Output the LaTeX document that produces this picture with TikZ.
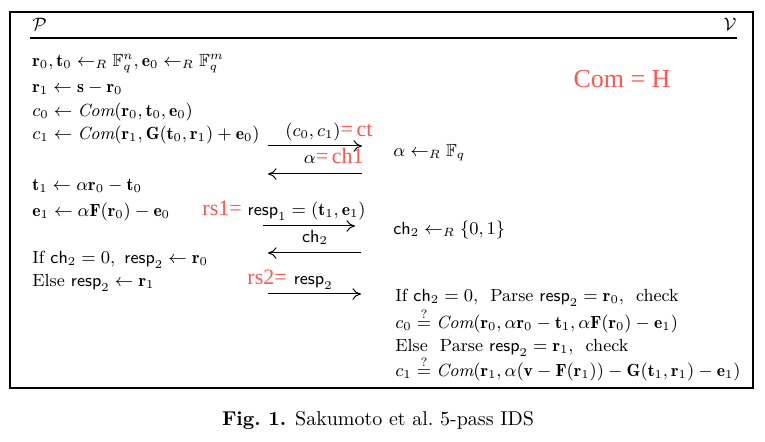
\documentclass[tikz,border=0pt]{standalone}
\usepackage{amsmath,amssymb}
\usepackage{fontspec}
\usetikzlibrary{arrows.meta,positioning}
\newfontfamily\notefont{Liberation Serif}
\definecolor{notered}{RGB}{250,88,82}
\newcommand{\rsamp}{\leftarrow_R}
\newcommand{\Com}{\mathit{Com}}
\newcommand{\chal}{\mathsf{ch}}
\newcommand{\resp}{\mathsf{resp}}
\newcommand{\redtxt}[1]{{\notefont\fontsize{11pt}{13pt}\selectfont\color{notered}#1}}

\begin{document}
\begin{tikzpicture}[x=0.5pt, y=-0.5pt,
  font={\fontsize{8.8}{11}\selectfont},
  line/.style={anchor=base west, inner sep=0pt},
  lbl/.style={anchor=base east, inner sep=0pt},
  msg/.style={-{To[length=1.5mm, width=2mm]}, line width=0.5pt}]
\useasboundingbox (0,0) rectangle (765,442);
\draw[line width=0.7pt] (10,12) rectangle (753,388);
\node[line] (P) at (32,31) {$\mathcal{P}$};
\node[lbl] (V) at (737,31) {$\mathcal{V}$};
\draw[line width=0.6pt] (30,38) -- (737,38);
\node[line] (p1) at (32,67) {$\mathbf{r}_0,\mathbf{t}_0 \rsamp \mathbb{F}_q^n, \mathbf{e}_0 \rsamp \mathbb{F}_q^m$};
\node[line] (p2) at (32,93) {$\mathbf{r}_1 \leftarrow \mathbf{s}-\mathbf{r}_0$};
\node[line] (p3) at (32,117) {$c_0 \leftarrow \Com(\mathbf{r}_0,\mathbf{t}_0,\mathbf{e}_0)$};
\node[line] (p4) at (32,140) {$c_1 \leftarrow \Com(\mathbf{r}_1,\mathbf{G}(\mathbf{t}_0,\mathbf{r}_1)+\mathbf{e}_0)$};
\node[line] (p5) at (32,191) {$\mathbf{t}_1 \leftarrow \alpha\mathbf{r}_0-\mathbf{t}_0$};
\node[line] (p6) at (32,217) {$\mathbf{e}_1 \leftarrow \alpha\mathbf{F}(\mathbf{r}_0)-\mathbf{e}_0$};
\node[line] (p7) at (32,264) {If $\chal_2=0,~\resp_2 \leftarrow \mathbf{r}_0$};
\node[line] (p8) at (32,287) {Else $\resp_2 \leftarrow \mathbf{r}_1$};
\node (H) at (622,79) {{\notefont\fontsize{13pt}{15pt}\selectfont\color{notered}Com = H}};
\coordinate (m1a) at (268,146); \coordinate (m1b) at (362,146);
\coordinate (m2a) at (362,174); \coordinate (m2b) at (268,174);
\coordinate (m3a) at (263,226); \coordinate (m3b) at (355,226);
\coordinate (m4a) at (361,253); \coordinate (m4b) at (268,253);
\coordinate (m5a) at (268,294); \coordinate (m5b) at (361,294);
\draw[msg] (m1a) -- (m1b); \draw[msg] (m2a) -- (m2b);
\draw[msg] (m3a) -- (m3b); \draw[msg] (m4a) -- (m4b);
\draw[msg] (m5a) -- (m5b);
\node[lbl] (ct) at (373,137) {$(c_0,c_1)$\redtxt{=\,ct}};
\node[lbl] (ch1) at (364,164) {$\alpha$\redtxt{=\,ch1}};
\node[lbl] (rs1) at (366,216) {\redtxt{rs1=}\hspace{3pt}$\resp_1=(\mathbf{t}_1,\mathbf{e}_1)$};
\node[anchor=base, inner sep=0pt] (c2) at (315,243) {$\chal_2$};
\node[lbl] (rs2) at (333,285) {\redtxt{rs2=}\hspace{3.5pt}$\resp_2$};
\node[line] (v1) at (393,157) {$\alpha \rsamp \mathbb{F}_q$};
\node[line] (v2) at (393,235) {$\chal_2 \rsamp \{0,1\}$};
\node[line] (v3) at (395,302) {If $\chal_2=0,$~ Parse $\resp_2=\mathbf{r}_0,$~ check};
\node[line] (v4) at (395,329) {$c_0 \stackrel{?}{=} \Com(\mathbf{r}_0,\alpha\mathbf{r}_0-\mathbf{t}_1,\alpha\mathbf{F}(\mathbf{r}_0)-\mathbf{e}_1)$};
\node[line] (v5) at (395,352) {Else~ Parse $\resp_2=\mathbf{r}_1,$~ check};
\node[line] (v6) at (395,377) {$c_1 \stackrel{?}{=} \Com(\mathbf{r}_1,\alpha(\mathbf{v}-\mathbf{F}(\mathbf{r}_1))-\mathbf{G}(\mathbf{t}_1,\mathbf{r}_1)-\mathbf{e}_1)$};
\node[anchor=base, inner sep=0pt, font=\normalsize] (cap) at (378,426) {\textbf{Fig.\ 1.} Sakumoto et al.\ 5-pass IDS};
\end{tikzpicture}
\end{document}
